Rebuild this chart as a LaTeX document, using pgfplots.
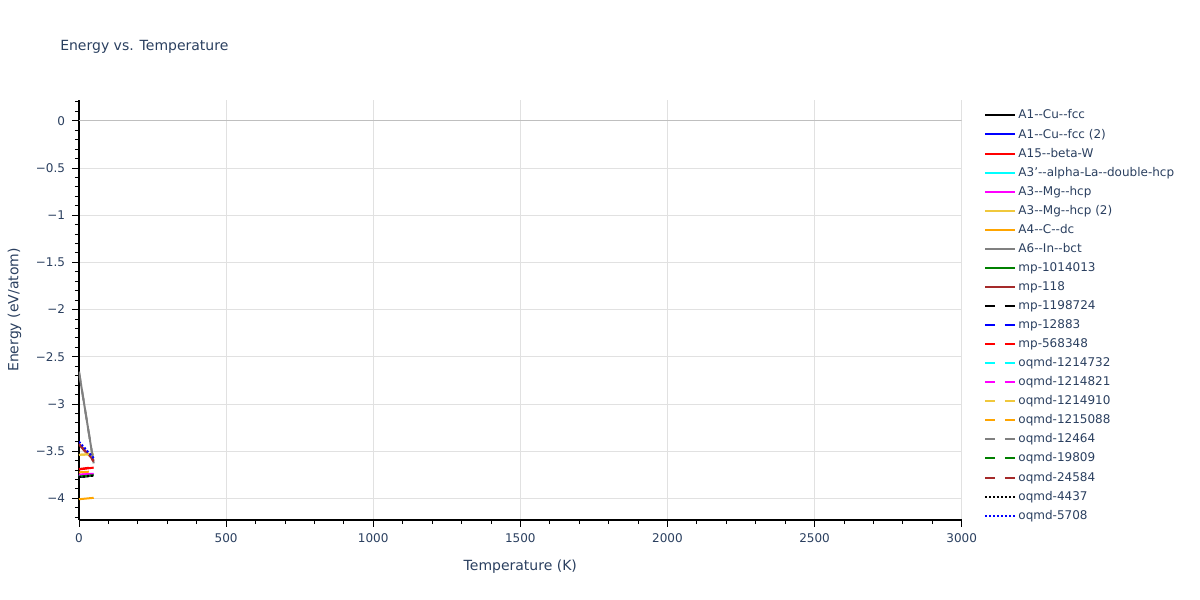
\documentclass[border=0pt]{standalone}
\usepackage{fontspec}
\setmainfont{DejaVu Sans}
\usepackage{pgfplots}
\pgfplotsset{compat=1.18}
\definecolor{txt}{RGB}{42,63,95}
\definecolor{gridc}{RGB}{225,225,225}
\definecolor{gold}{RGB}{240,200,60}
\definecolor{orng}{RGB}{255,165,0}
\definecolor{brwn}{RGB}{165,42,42}
\definecolor{grn}{RGB}{0,128,0}
\definecolor{cyn}{RGB}{0,255,255}
\definecolor{mgn}{RGB}{255,0,255}
\definecolor{blu}{RGB}{0,0,255}
\definecolor{rd}{RGB}{255,0,0}
\definecolor{gry}{RGB}{128,128,128}
\tikzset{dsh/.style={dash pattern=on 7.5pt off 7pt}}
\begin{document}
\begin{tikzpicture}
\path[use as bounding box] (0,0) rectangle (900pt,450pt);
\node[anchor=base west, text=txt, font=\fontsize{10.5}{12}\selectfont, inner sep=0pt] at (45pt,412pt) {Energy vs. Temperature};
\begin{axis}[
    at={(59.25pt,60pt)}, anchor=south west,
    scale only axis,
    width=662pt, height=315pt,
    xmin=0, xmax=3000,
    ymin=-4.23, ymax=0.22,
    xtick={0,500,...,3000},
    ytick={-4,-3.5,...,0},
    minor xtick={0,100,...,3000},
    minor ytick={-4.2,-4.1,...,0.2},
    yticklabels={−4,−3.5,−3,−2.5,−2,−1.5,−1,−0.5,0},
    /pgf/number format/assume math mode=true,
    /pgf/number format/1000 sep={},
    tick align=outside,
    major tick length=5pt, minor tick length=3pt,
    tick style={black, line width=0.6pt},
    xtick pos=bottom, ytick pos=left,
    axis x line*=bottom, axis y line*=left,
    axis line style={black, line width=0.8pt},
    grid=major,
    major grid style={gridc, line width=0.6pt},
    minor grid style={draw=none},
    ticklabel style={text=txt, font=\fontsize{9}{10}\selectfont},
    xticklabel style={yshift=-2pt},
    yticklabel style={xshift=-2pt},
    xlabel={Temperature (K)}, ylabel={Energy (eV/atom)},
    label style={text=txt, font=\fontsize{10.5}{12}\selectfont},
    xlabel style={yshift=-6pt},
    ylabel style={yshift=4pt},
    legend style={at={(1.021,0.99)}, anchor=north west, draw=none, fill=none,
        font=\fontsize{9}{10}\selectfont, text=txt, row sep=2pt,
        legend cell align=left},
    legend image code/.code={\draw[#1] (0pt,0pt) -- (22pt,0pt);},
    every axis plot/.append style={line width=1.5pt},
]
\addplot[forget plot, color=gray!50, line width=1pt] coordinates {(0,0) (3000,0)};
\addplot[black] coordinates {(0,-3.775) (50,-3.755)};
\addplot[blu] coordinates {(0,-3.77) (50,-3.75)};
\addplot[rd] coordinates {(0,-3.695) (50,-3.675)};
\addplot[cyn] coordinates {(0,-3.765) (50,-3.75)};
\addplot[mgn] coordinates {(0,-3.75) (50,-3.74)};
\addplot[gold] coordinates {(0,-3.54) (50,-3.53)};
\addplot[orng] coordinates {(0,-4.01) (50,-3.995)};
\addplot[gry] coordinates {(0,-2.66) (50,-3.63)};
\addplot[grn] coordinates {(0,-3.77) (50,-3.755)};
\addplot[brwn] coordinates {(0,-3.42) (50,-3.6)};
\addplot[black, dsh] coordinates {(0,-3.775) (50,-3.76)};
\addplot[blu, dsh] coordinates {(0,-3.77) (50,-3.755)};
\addplot[rd, dsh] coordinates {(0,-3.69) (50,-3.67)};
\addplot[cyn, dsh] coordinates {(0,-3.765) (50,-3.75)};
\addplot[mgn, dsh] coordinates {(0,-3.75) (50,-3.74)};
\addplot[gold, dsh] coordinates {(0,-3.54) (50,-3.53)};
\addplot[orng, dsh] coordinates {(0,-3.725) (50,-3.715)};
\addplot[gry, dsh] coordinates {(0,-2.66) (50,-3.63)};
\addplot[grn, dsh] coordinates {(0,-3.77) (50,-3.755)};
\addplot[brwn, dsh] coordinates {(0,-3.43) (50,-3.61)};
\addplot[black, dash pattern=on 1.5pt off 1.5pt] coordinates {(0,-3.775) (50,-3.76)};
\addplot[blu, dash pattern=on 1.5pt off 1.5pt] coordinates {(0,-3.40) (50,-3.575)};
\legend{A1-{}-Cu-{}-fcc, A1-{}-Cu-{}-fcc (2), A15-{}-beta-W, A3'-{}-alpha-La-{}-double-hcp,
  A3-{}-Mg-{}-hcp, A3-{}-Mg-{}-hcp (2), A4-{}-C-{}-dc, A6-{}-In-{}-bct, mp-1014013, mp-118,
  mp-1198724, mp-12883, mp-568348, oqmd-1214732, oqmd-1214821, oqmd-1214910, oqmd-1215088,
  oqmd-12464, oqmd-19809, oqmd-24584, oqmd-4437, oqmd-5708}
\end{axis}
\end{tikzpicture}
\end{document}
